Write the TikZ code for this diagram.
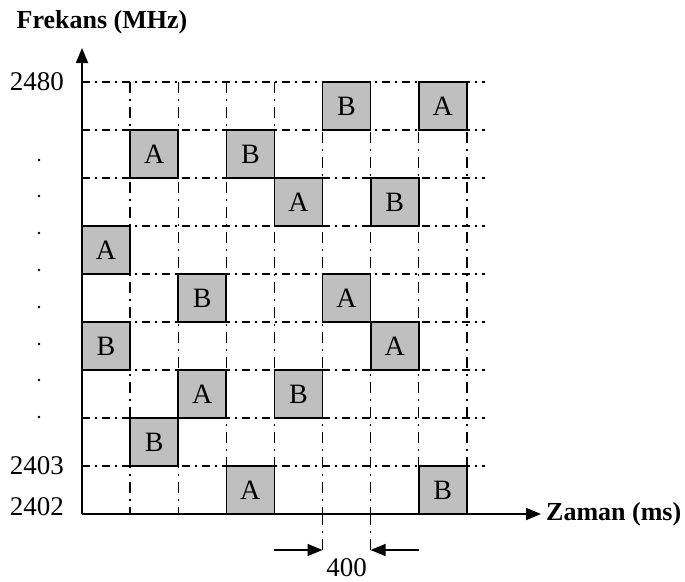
\documentclass[tikz,border=0pt]{standalone}
\usepackage{fontspec}
\setmainfont{Liberation Serif}
\usetikzlibrary{arrows.meta}
\begin{document}
\begin{tikzpicture}[x=1pt,y=-1pt,
  axis/.style={line width=1.8pt,-{Triangle[length=15pt,width=12pt]}},
  hgrid/.style={line width=1.4pt,dash pattern=on 8pt off 5pt on 2pt off 5pt},
  vgrid/.style={line width=1.4pt,dash pattern=on 11pt off 6pt on 2pt off 6pt},
  slot/.style={draw,line width=1.7pt,fill=black!25,minimum size=48pt,inner sep=0pt,
    font=\fontsize{28}{32}\selectfont},
  lbl/.style={font=\fontsize{27}{30}\selectfont,inner sep=0pt},
  ttl/.style={font=\fontsize{26}{30}\selectfont\bfseries,inner sep=0pt},
  dimarrow/.style={line width=1.4pt,-{Triangle[length=15pt,width=12pt]}}]
\useasboundingbox (0,0) rectangle (685,581);
\def\xo{82}\def\yo{514}\def\cw{48.1}
% dash-dot grid
\foreach \k in {0,...,8}
  \draw[hgrid] (\xo,{82+48*\k}) -- (485,{82+48*\k});
\foreach \k in {1,...,8}
  \draw[vgrid] ({\xo+\cw*\k},82) -- ({\xo+\cw*\k},514);
% extended guides for the 400 ms dimension
\draw[vgrid] ({\xo+\cw*5},514) -- ({\xo+\cw*5},552);
\draw[vgrid] ({\xo+\cw*6},514) -- ({\xo+\cw*6},552);
% axes
\coordinate (O) at (\xo,\yo);
\coordinate (ytip) at (\xo,48);
\coordinate (xtip) at (541,\yo);
\draw[axis] (O) -- (ytip);
\draw[axis] (O) -- (xtip);
\node[ttl] (ftitle) at (102,22) {Frekans (MHz)};
\node[ttl,anchor=west] (ttitle) at (546,514) {Zaman (ms)};
% frequency labels
\node[lbl,anchor=east] (f2480) at (64,82) {2480};
\node[lbl,anchor=east] (f2403) at (64,466) {2403};
\node[lbl,anchor=east] (f2402) at (64,507) {2402};
\foreach \yy in {160,196,233,270,307,344,380,417}
  \fill (39,\yy) circle (1.4pt);
% hopping slots: (column, row) with row 0 at the top
\foreach \c/\r/\t/\n in {5/0/B/s1,7/0/A/s2,1/1/A/s3,3/1/B/s4,4/2/A/s5,6/2/B/s6,
    0/3/A/s7,2/4/B/s8,5/4/A/s9,0/5/B/s10,6/5/A/s11,2/6/A/s12,4/6/B/s13,
    1/7/B/s14,3/8/A/s15,7/8/B/s16}
  \node[slot] (\n) at ({\xo+\cw*(\c+0.5)},{106+48*\r}) {\t};
% 400 ms dimension
\coordinate (dL0) at ({\xo+\cw*4},550);
\coordinate (dL1) at ({\xo+\cw*5},550);
\coordinate (dR0) at ({\xo+\cw*7},550);
\coordinate (dR1) at ({\xo+\cw*6},550);
\draw[dimarrow] (dL0) -- (dL1);
\draw[dimarrow] (dR0) -- (dR1);
\node[lbl,anchor=base] (dim) at ({\xo+\cw*5.5},576) {400};
\end{tikzpicture}
\end{document}
